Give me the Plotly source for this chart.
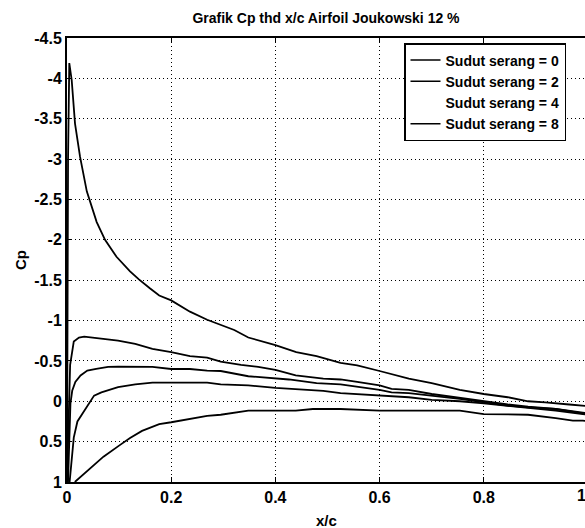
import plotly.graph_objects as go

# ---- data ----
x_a8 = [0.0, 0.001, 0.002, 0.0044, 0.009, 0.0154, 0.025, 0.038, 0.057, 0.073, 0.095, 0.121, 0.138,
        0.159, 0.177, 0.2, 0.236, 0.269, 0.295, 0.321, 0.348, 0.4, 0.44, 0.479, 0.525, 0.557, 0.6,
        0.656, 0.70, 0.754, 0.8, 0.846, 0.885, 0.918, 0.964, 0.99, 1.0]
cp_a8 = [1.0, -1.5, -3.0, -4.19, -3.98, -3.44, -3.03, -2.60, -2.22, -2.0, -1.79, -1.61, -1.51,
         -1.40, -1.31, -1.25, -1.11, -1.01, -0.946, -0.883, -0.79, -0.696, -0.61, -0.558, -0.475, -0.446, -0.375,
         -0.28, -0.225, -0.14, -0.09, -0.05, 0.0, 0.0125, 0.04, 0.055, 0.06]

x_a4 = [0.0, 0.002, 0.004, 0.006, 0.013, 0.023, 0.033, 0.049, 0.066, 0.098, 0.131, 0.164, 0.2,
        0.236, 0.269, 0.295, 0.334, 0.367, 0.4, 0.439, 0.492, 0.525, 0.557, 0.6, 0.623, 0.656,
        0.70, 0.754, 0.8, 0.846, 0.885, 0.938, 0.99, 1.0]
cp_a4 = [1.0, 0.5, 0.0, -0.45, -0.74, -0.79, -0.8, -0.79, -0.77, -0.75, -0.71, -0.65, -0.61,
         -0.56, -0.54, -0.49, -0.45, -0.425, -0.39, -0.32, -0.28, -0.27, -0.24, -0.196, -0.154, -0.14,
         -0.09, -0.04, 0.0, 0.04, 0.067, 0.096, 0.14, 0.15]

x_a2 = [0.002, 0.004, 0.0066, 0.01, 0.016, 0.026, 0.039, 0.056, 0.079, 0.098, 0.131, 0.164, 0.2,
        0.236, 0.269, 0.295, 0.348, 0.367, 0.4, 0.426, 0.479, 0.525, 0.6, 0.623, 0.656, 0.70,
        0.754, 0.8, 0.846, 0.885, 0.938, 0.99, 1.0]
cp_a2 = [1.0, 0.6, 0.03, -0.13, -0.24, -0.32, -0.38, -0.40, -0.425, -0.43, -0.43, -0.425, -0.40,
         -0.40, -0.38, -0.375, -0.31, -0.30, -0.28, -0.27, -0.225, -0.21, -0.14, -0.11, -0.10, -0.07,
         -0.03, 0.0125, 0.054, 0.075, 0.096, 0.15, 0.16]

x_a0 = [0.005, 0.008, 0.013, 0.02, 0.039, 0.052, 0.066, 0.098, 0.131, 0.164, 0.2, 0.236, 0.269,
        0.295, 0.348, 0.4, 0.439, 0.492, 0.525, 0.6, 0.656, 0.70, 0.754, 0.8, 0.846, 0.885, 0.938,
        0.99, 1.0]
cp_a0 = [1.0, 0.75, 0.45, 0.25, 0.054, -0.07, -0.11, -0.175, -0.21, -0.23, -0.23, -0.23, -0.23,
         -0.21, -0.196, -0.167, -0.154, -0.13, -0.10, -0.07, -0.05, -0.017, 0.0, 0.025, 0.054, 0.083, 0.117,
         0.158, 0.165]

x_low = [0.015, 0.038, 0.052, 0.07, 0.102, 0.121, 0.144, 0.177, 0.2, 0.236, 0.269, 0.295, 0.348,
         0.4, 0.439, 0.472, 0.525, 0.6, 0.656, 0.754, 0.8, 0.846, 0.885, 0.938, 0.971, 0.99, 1.0]
cp_low = [1.0, 0.87, 0.78, 0.686, 0.54, 0.455, 0.367, 0.283, 0.26, 0.22, 0.18, 0.167, 0.117,
          0.117, 0.117, 0.096, 0.096, 0.117, 0.117, 0.117, 0.158, 0.167, 0.167, 0.21, 0.24, 0.24, 0.245]

legend_labels = ["Sudut serang = 0", "Sudut serang = 2", "Sudut serang = 4", "Sudut serang = 8"]
legend_show_line = [True, True, False, True]

y_ticks = [-4.5, -4, -3.5, -3, -2.5, -2, -1.5, -1, -0.5, 0, 0.5, 1]
y_ticktext = ["-4.5", "-4", "-3.5", "-3", "-2.5", "-2", "-1.5", "-1", "-0.5", "0", "0.5", "1"]
x_ticks = [0, 0.2, 0.4, 0.6, 0.8]
x_ticktext = ["0", "0.2", "0.4", "0.6", "0.8"]

FONT = "Liberation Sans, Arial, sans-serif"
BOLD = dict(family=FONT, weight="bold", color="black")

fig = go.Figure()
for xs, ys in [(x_a0, cp_a0), (x_a2, cp_a2), (x_a4, cp_a4), (x_a8, cp_a8), (x_low, cp_low)]:
    fig.add_trace(go.Scatter(x=xs, y=ys, mode="lines", line=dict(color="black", width=1.8),
                             showlegend=False, hoverinfo="skip"))

for lab, show in zip(legend_labels, legend_show_line):
    fig.add_trace(go.Scatter(x=[None], y=[None], mode="lines", name=lab,
                             line=dict(color="black" if show else "rgba(0,0,0,0)", width=1.5)))

W, H = 585, 528
L, T, B = 67, 38, 46
plot_w = W - L
x_max = plot_w / 521.0

fig.update_layout(
    width=W, height=H,
    margin=dict(l=L, r=0, t=T, b=B),
    paper_bgcolor="white", plot_bgcolor="white",
    font=dict(size=15, **BOLD),
    title=dict(text="Grafik Cp thd x/c Airfoil Joukowski 12 %", x=326 / W, xanchor="center",
               y=1 - 18 / H, yanchor="middle", font=dict(size=14, **BOLD)),
    xaxis=dict(range=[0, x_max], tickvals=x_ticks, ticktext=x_ticktext, showgrid=True,
               gridcolor="black", griddash="1px,3px", gridwidth=1, zeroline=False,
               showline=True, linecolor="black", linewidth=2, mirror="ticks",
               ticks="inside", ticklen=5, tickcolor="black", tickfont=dict(size=16, **BOLD)),
    yaxis=dict(range=[1, -4.5], tickvals=y_ticks, ticktext=y_ticktext, showgrid=True,
               gridcolor="black", griddash="1px,3px", gridwidth=1, zeroline=False,
               showline=True, linecolor="black", linewidth=2, mirror=False,
               ticks="inside", ticklen=5, tickcolor="black", tickfont=dict(size=16, **BOLD)),
    legend=dict(x=(404 - L) / plot_w, y=1 - (43 - T) / 444.0, xanchor="left", yanchor="top",
                bgcolor="white", bordercolor="black", borderwidth=1.5,
                font=dict(size=14, **BOLD), tracegroupgap=0),
    annotations=[
        dict(text="x/c", xref="paper", yref="paper", x=(326 - L) / plot_w, y=-(520 - 482) / 444.0,
             showarrow=False, xanchor="center", yanchor="middle", font=dict(size=15, **BOLD)),
        dict(text="Cp", xref="paper", yref="paper", x=-(67 - 20) / plot_w, y=0.5, textangle=-90,
             showarrow=False, xanchor="center", yanchor="middle", font=dict(size=15, **BOLD)),
        dict(text="1", xref="paper", yref="paper", x=(581 - L) / plot_w, y=-(495 - 482) / 444.0,
             showarrow=False, xanchor="center", yanchor="middle", font=dict(size=16, **BOLD)),
    ],
)

fig.write_html("out.html")
